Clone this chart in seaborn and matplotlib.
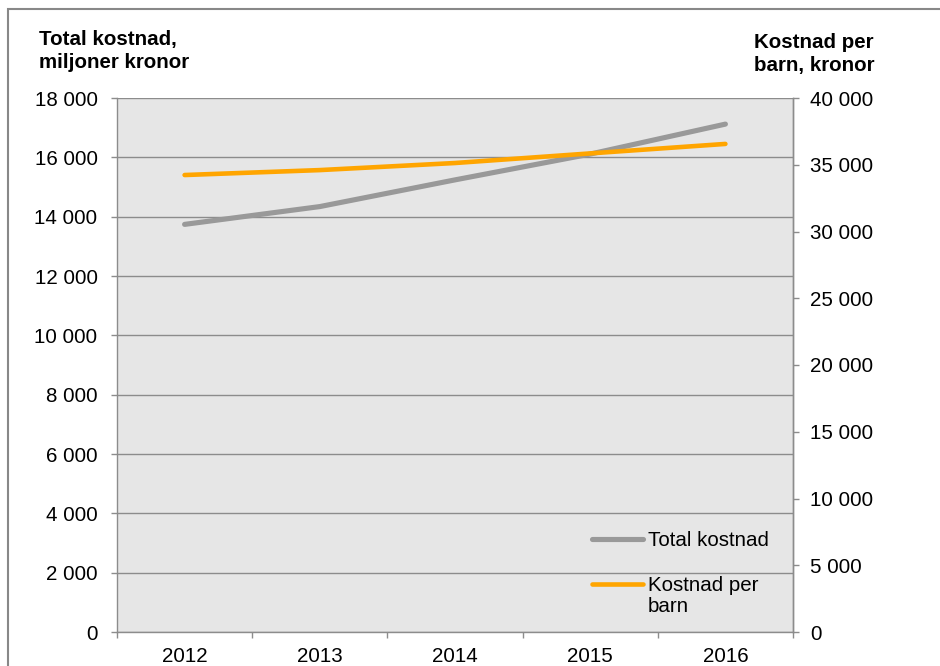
import matplotlib
matplotlib.use("Agg")
import matplotlib.pyplot as plt
import seaborn as sns
import pandas as pd
from matplotlib.patches import Rectangle
from matplotlib.ticker import FuncFormatter, FixedLocator

years = ["2012", "2013", "2014", "2015", "2016"]
total_kostnad = [13740, 14340, 15240, 16110, 17120]
kostnad_per_barn = [34230, 34600, 35130, 35850, 36560]

left_title = "Total kostnad,\nmiljoner kronor"
right_title = "Kostnad per\nbarn, kronor"
label_total = "Total kostnad"
label_barn = "Kostnad per\nbarn"

sns.set_theme(style="white")
plt.rcParams['font.family'] = ['Liberation Sans', 'DejaVu Sans']
plt.rcParams['text.color'] = 'black'

FS = 14.8

df = pd.DataFrame({"idx": range(len(years)), "year": years,
                   "total": total_kostnad, "barn": kostnad_per_barn})

fig = plt.figure(figsize=(9.4, 6.66), dpi=100)
ax = fig.add_axes([117/940, 1-632/666, (793-117)/940, (632-98)/666])
ax2 = ax.twinx()

grey = "#999999"
orange = "#FFA500"
axcol = "#8c8c8c"

ax.set_facecolor("#E6E6E6")
ax.set_zorder(0)
ax2.set_zorder(1)
ax2.patch.set_visible(False)

sns.lineplot(data=df, x="idx", y="total", ax=ax, color=grey, linewidth=3.7,
             label=label_total, legend=False, solid_capstyle="round")
sns.lineplot(data=df, x="idx", y="barn", ax=ax2, color=orange, linewidth=3.3,
             label=label_barn, legend=False, solid_capstyle="round")

ax.set_xlim(-0.5, len(years) - 0.5)
ax.set_ylim(0, 18000)
ax2.set_ylim(0, 40000)

fmt = FuncFormatter(lambda v, p: f"{int(v):,}".replace(",", " "))
ax.set_yticks(range(0, 18001, 2000))
ax.yaxis.set_major_formatter(fmt)
ax2.set_yticks(range(0, 40001, 5000))
ax2.yaxis.set_major_formatter(fmt)

ax.xaxis.set_major_locator(FixedLocator([i - 0.5 for i in range(len(years) + 1)]))
ax.xaxis.set_major_formatter(FuncFormatter(lambda v, p: ""))
ax.set_xticks(list(range(len(years))), labels=years, minor=True)
ax.set_xlabel("")
ax.set_ylabel("")
ax2.set_ylabel("")

ax.grid(axis="y", color=axcol, linewidth=1.0)
ax.grid(axis="x", visible=False)
ax2.grid(False)
ax.set_axisbelow(True)

for a in (ax, ax2):
    a.spines["top"].set_visible(False)
    for s in ("left", "right", "bottom"):
        a.spines[s].set_color(axcol)
        a.spines[s].set_linewidth(1.0)
ax2.spines["left"].set_visible(False)
ax2.spines["bottom"].set_visible(False)

ax.tick_params(axis="y", which="major", direction="out", length=4.5, width=1,
               color=axcol, labelsize=FS, labelcolor="black", pad=9.5, left=True)
ax.tick_params(axis="x", which="major", direction="out", length=4.5, width=1,
               color=axcol, bottom=True)
ax.tick_params(axis="x", which="minor", length=0, labelsize=FS,
               labelcolor="black", pad=10.5, bottom=True)
ax2.tick_params(axis="y", direction="out", length=4.5, width=1, color=axcol,
                labelsize=FS, labelcolor="black", pad=8, right=True)

fig.text(39/940, 1-51/666, left_title, fontsize=FS, fontweight="bold",
         ha="left", va="center", linespacing=1.22, color="black")
fig.text(874/940, 1-54/666, right_title, fontsize=FS, fontweight="bold",
         ha="right", va="center", linespacing=1.22, multialignment="left",
         color="black")

h1, l1 = ax.get_legend_handles_labels()
h2, l2 = ax2.get_legend_handles_labels()
leg = ax2.legend(h1 + h2, l1 + l2, loc="upper left",
                 bbox_to_anchor=((592-117)/676, (632-531)/534),
                 frameon=False, fontsize=FS, handlelength=2.5,
                 handletextpad=0.2, labelspacing=1.25, borderaxespad=0,
                 borderpad=0)
for t in leg.get_texts():
    t.set_linespacing(1.15)
    t.set_color("black")
hl = leg.legend_handles[1]
yd = hl.get_ydata()
hl.set_ydata([y + 0.6 * FS for y in yd])

fig.patches.append(Rectangle((8/940, -0.1), 1.2, 1 - 9/666 + 0.1,
                             transform=fig.transFigure, fill=False,
                             edgecolor="#888888", linewidth=1.5))

fig.savefig("out.png", dpi=100)
